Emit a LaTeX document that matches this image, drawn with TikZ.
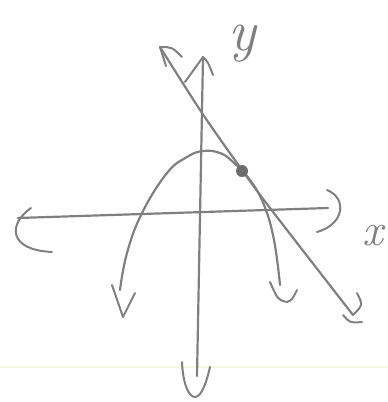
\documentclass[tikz,border=0pt]{standalone}
\usepackage{fontspec}
\usepackage{tikz}
\usetikzlibrary{positioning}

\definecolor{pencil}{RGB}{128,128,128}
\definecolor{ruleline}{RGB}{246,248,222}

\begin{document}
\begin{tikzpicture}[
    x=1pt, y=-1pt,
    pen/.style={draw=pencil, line width=2.2pt, line cap=round, line join=round},
    tip/.style={pen, line width=2pt},
    lbl/.style={text=pencil, inner sep=0pt, font=\itshape},
]
\useasboundingbox (0,0) rectangle (388,402);

% Notebook rule line
\draw[ruleline, line width=1.6pt] (0,367) -- (388,367);

% Axes
\coordinate (ytop) at (203,57);
\coordinate (ybot) at (197,376);
\coordinate (xleft) at (18,218);
\coordinate (xright) at (328,208);
\draw[pen] (ytop) -- (ybot);
\draw[pen] (xleft) -- (xright);

% Axis arrow heads (hand drawn)
\draw[tip] (185,82) -- (ytop) .. controls (208,62) .. (213,75);
\draw[tip] (182,362) .. controls (183,385) and (189,397) .. (195,397) .. controls (202,397) and (207,380) .. (210,367);
\draw[tip] (31,208) .. controls (8,224) and (8,250) .. (52,252);
\draw[tip] (327,190) .. controls (347,198) and (345,224) .. (317,232);

% Axis labels
\node[lbl, font=\itshape\fontsize{58}{58}\selectfont, anchor=base] (ylab) at (242,50) {y};
\node[lbl, font=\itshape\fontsize{46}{46}\selectfont, anchor=base] (xlab) at (373,245) {x};

% Parabola
\coordinate (pleft) at (120,290);
\coordinate (pright) at (280,285);
\draw[pen] plot[smooth, tension=0.7] coordinates {(pleft) (127,253) (142,213) (167,173) (187,157) (203,151) (220,153) (233,162) (250,180) (264,205) (274,240) (pright)};
\draw[tip] (112,285) -- (123,317) -- (135,293);
\draw[tip] (270,282) .. controls (278,300) .. (287,302) .. controls (292,300) .. (297,290);

% Line
\coordinate (ltop) at (160,47);
\coordinate (lbot) at (353,315);
\draw[pen] plot[smooth, tension=0.5] coordinates {(ltop) (202,113) (242,170) (270,208) (lbot)};
\draw[tip] (ltop) .. controls (172,47) .. (182,57);
\draw[tip] (ltop) -- (166,66);
\draw[tip] (357,293) .. controls (363,305) .. (lbot);
\draw[tip] (343,315) .. controls (350,323) .. (362,322);

% Point of intersection
\node[circle, fill=pencil!85!black, inner sep=0pt, minimum size=12pt] (pt) at (242,171) {};

\end{tikzpicture}
\end{document}
